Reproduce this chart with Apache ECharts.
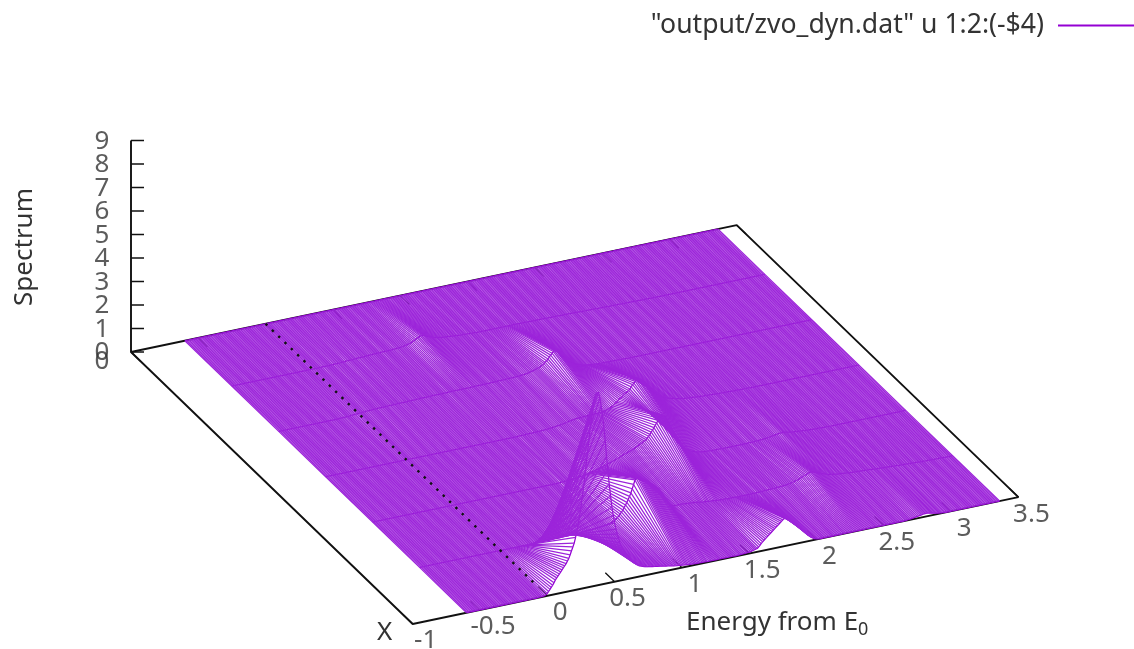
<!DOCTYPE html>
<html><head><meta charset="utf-8">
<style>html,body{margin:0;padding:0;background:#fff}#c{width:1134px;height:649px;filter:blur(0.5px)}</style>
<script src="https://cdn.jsdelivr.net/npm/echarts@6/dist/echarts.min.js"></script>
</head><body><div id="c"></div>
<script>
var seriesName = '"output/zvo_dyn.dat" u 1:2:(-$4)';
var energyTicks = [-1,-0.5,0,0.5,1,1.5,2,2.5,3,3.5];
var energyTickLabels = ['-1','-0.5','0','0.5','1','1.5','2','2.5','3','3.5'];
var zTicks = [0,1,2,3,4,5,6,7,8,9];
var zTickLabels = ['0','1','2','3','4','5','6','7','8','9'];
var xTickLabels = ['0'];
var energyMin = -0.6, energyStep = 0.01;
var row0 = [
0,0,0,0,0,0,0,0,0,0,0,0,0,0,0,0,0,0,0,0,
0,0,0,0,0,0,0,0,0,0,0,0,0,0,0,0,0,0,0,0,
0,0,0,0,0,0,0,0,0,0,0,0,0,0,.01,.01,.01,.02,.03,.05,
.1,.17,.25,.32,.4,.5,.6,.68,.75,.82,.9,.97,1.05,1.12,1.2,1.3,1.4,1.54,1.7,1.85,
2,2.23,2.5,2.78,3.1,3.48,3.9,4.33,4.8,5.3,5.8,6.3,6.8,7.22,7.6,7.92,8.15,8.22,8.2,7.95,
7.6,7.2,6.7,6.1,5.4,4.8,4.2,3.7,3.2,2.83,2.5,2.23,2,1.8,1.6,1.46,1.35,1.25,1.15,1.07,
1,.9,.8,.72,.65,.6,.55,.51,.47,.44,.42,.4,.38,.36,.35,.34,.33,.32,.31,.3,
.29,.28,.27,.26,.25,.24,.23,.22,.21,.2,.19,.18,.17,.16,.15,.14,.13,.12,.12,.11,
.1,.09,.09,.08,.08,.07,.07,.06,.06,.05,.05,.05,.05,.04,.04,.04,.04,.04,.04,.03,
.03,.03,.03,.03,.03,.03,.03,.03,.03,.03,.03,.03,.03,.03,.03,.03,.03,.03,.03,.02,
.02,.02,.03,.03,.03,.03,.04,.04,.05,.05,.06,.07,.08,.09,.11,.12,.14,.19,.25,.31,
.38,.43,.48,.53,.58,.63,.68,.73,.78,.83,.88,.93,.98,1.03,1.08,1.13,1.18,1.19,1.15,1.1,
1.05,1,.95,.9,.84,.78,.72,.66,.6,.54,.48,.42,.36,.3,.24,.19,.14,.1,.06,.04,
.02,.01,0,0,0,0,0,0,0,0,0,0,0,0,0,0,0,0,0,0,
0,0,0,0,0,0,0,0,0,0,0,0,0,0,0,0,0,0,0,0,
0,0,0,0,0,0,0,0,0,0,0,0,0,0,0,0,0,0,0,0,
0,0,0,0,0,0,.01,.01,.02,.02,.03,.04,.05,.06,.07,.08,.09,.1,.11,.12,
.13,.13,.13,.13,.12,.11,.09,.07,.06,.05,.04,.03,.02,.01,.01,.01,0,0,0,0,
0,0,0,0,0,0,0,0,0,0,0,0,0,0,0,0,0,0,0,0,
0,0,0,0,0,0,0,0,0,0,0,0,0,0,0,0,0];
var row1 = [
0,0,0,0,0,0,0,0,0,0,0,0,0,0,0,0,0,0,0,0,
0,0,0,0,0,0,0,0,0,0,0,0,0,0,0,0,0,0,0,0,
0,0,0,0,0,0,0,0,0,0,0,0,0,0,0,0,0,0,0,0,
0,0,0,0,0,0,0,0,0,0,0,0,0,0,0,0,0,0,0,0,
0,0,0,0,0,0,0,0,0,0,0,0,0,0,0,0,0,0,0,0,
.01,.01,.01,.01,.01,.02,.02,.02,.02,.02,.02,.03,.03,.03,.03,.03,.03,.03,.03,.04,
.04,.04,.05,.05,.05,.06,.06,.07,.07,.08,.08,.09,.09,.1,.1,.11,.12,.13,.14,.15,
.16,.17,.19,.21,.23,.26,.3,.35,.42,.48,.55,.63,.72,.82,.92,1.03,1.15,1.29,1.45,1.62,
1.8,1.85,1.88,1.87,1.85,1.82,1.78,1.74,1.7,1.65,1.6,1.55,1.5,1.46,1.42,1.36,1.3,1.25,1.2,1.1,
1,.9,.8,.7,.6,.52,.45,.41,.38,.36,.35,.35,.36,.36,.36,.36,.35,.35,.34,.34,
.33,.33,.32,.32,.31,.31,.3,.29,.28,.27,.26,.25,.25,.24,.24,.23,.23,.22,.22,.22,
.21,.21,.2,.2,.2,.19,.19,.19,.19,.18,.18,.18,.18,.18,.18,.17,.17,.17,.17,.17,
.17,.17,.17,.17,.17,.17,.17,.17,.17,.17,.17,.18,.18,.18,.18,.18,.19,.19,.19,.19,
.2,.2,.2,.2,.2,.2,.21,.21,.22,.22,.23,.23,.24,.25,.26,.27,.28,.29,.31,.32,
.34,.36,.38,.4,.43,.45,.48,.5,.53,.55,.57,.57,.56,.54,.52,.5,.47,.44,.42,.4,
.38,.36,.34,.32,.31,.3,.29,.28,.27,.26,.25,.25,.24,.24,.23,.23,.22,.22,.21,.2,
.19,.19,.19,.18,.18,.18,.17,.17,.17,.16,.16,.16,.15,.15,.15,.14,.14,.14,.13,.13,
.12,.12,.12,.11,.11,.11,.1,.1,.1,.09,.09,.09,.08,.08,.08,.08,.07,.07,.07,.06,
.06,.06,.06,.05,.05,.05,.05,.04,.04,.04,.04,.03,.03,.03,.03,.02,.02,.02,.02,.02,
.02,.01,.01,.01,.01,.01,.01,.01,.01,0,0,0,0,0,0,0,0];
var row2 = [
0,0,0,0,0,0,0,0,0,0,0,0,0,0,0,0,0,0,0,0,
0,0,0,0,0,0,0,0,0,0,0,0,0,0,0,0,0,0,0,0,
0,0,0,0,0,0,0,0,0,0,0,0,0,0,0,0,0,0,0,0,
0,0,0,0,0,0,0,0,0,0,0,0,0,0,0,0,0,0,0,0,
0,0,0,0,0,0,0,0,0,0,0,0,0,0,0,0,0,0,0,0,
0,0,0,0,0,0,0,0,0,0,0,0,0,0,0,0,0,0,0,0,
0,0,0,0,0,0,0,0,0,0,0,0,0,0,0,0,0,0,0,0,
.02,.02,.02,.02,.03,.03,.03,.03,.04,.04,.05,.05,.06,.07,.08,.09,.1,.11,.12,.13,
.14,.15,.17,.18,.2,.21,.23,.25,.27,.28,.3,.31,.33,.34,.36,.38,.4,.42,.44,.46,
.48,.5,.52,.54,.57,.59,.62,.64,.66,.68,.7,.72,.74,.76,.78,.81,.84,.87,.9,.92,
.95,.98,1.02,1.07,1.12,1.19,1.26,1.34,1.42,1.51,1.6,1.69,1.78,1.85,1.92,1.95,1.96,1.9,1.8,1.68,
1.55,1.4,1.25,1.11,.98,.86,.75,.66,.58,.51,.45,.4,.35,.31,.27,.23,.2,.17,.15,.13,
.11,.09,.08,.07,.06,.05,.05,.04,.04,.03,.03,.03,.02,.02,.02,.02,.02,.02,.02,.02,
.01,.01,.01,.01,.01,.01,.01,.01,.01,.01,.01,.01,.01,.01,.01,.01,.01,.01,.01,.01,
.02,.02,.02,.02,.03,.03,.03,.03,.04,.04,.05,.05,.06,.06,.07,.08,.09,.1,.11,.12,
.13,.14,.15,.16,.16,.16,.15,.14,.13,.12,.11,.1,.09,.08,.08,.07,.07,.06,.06,.05,
.05,.04,.04,.03,.03,.03,.03,.03,.02,.02,.02,.02,.02,.02,.01,.01,.01,.01,.01,.01,
0,0,0,0,0,0,0,0,0,0,0,0,0,0,0,0,0,0,0,0,
0,0,0,0,0,0,0,0,0,0,0,0,0,0,0,0,0,0,0,0,
0,0,0,0,0,0,0,0,0,0,0,0,0,0,0,0,0];
var row3 = [
0,0,0,0,0,0,0,0,0,0,0,0,0,0,0,0,0,0,0,0,
0,0,0,0,0,0,0,0,0,0,0,0,0,0,0,0,0,0,0,0,
0,0,0,0,0,0,0,0,0,0,0,0,0,0,0,0,0,0,0,0,
0,0,0,0,0,0,0,0,0,0,0,0,0,0,0,0,0,0,0,0,
0,0,0,0,0,0,0,0,0,0,0,0,0,0,0,0,0,0,0,0,
0,0,0,0,0,0,0,0,0,0,0,0,0,0,0,0,0,0,0,0,
0,0,0,0,0,0,0,0,0,0,0,0,0,0,0,0,0,0,0,0,
0,0,0,0,.01,.01,.01,.01,.01,.02,.02,.02,.02,.02,.02,.03,.03,.03,.03,.03,
.03,.04,.04,.05,.05,.06,.06,.07,.07,.08,.08,.09,.1,.11,.11,.12,.13,.14,.15,.16,
.18,.19,.2,.21,.22,.23,.24,.25,.25,.25,.25,.26,.26,.26,.26,.27,.27,.27,.27,.28,
.28,.28,.28,.29,.29,.3,.3,.31,.33,.35,.37,.39,.42,.46,.5,.54,.58,.63,.68,.72,
.76,.8,.84,.88,.92,.97,1.02,1.1,1.18,1.24,1.3,1.33,1.36,1.35,1.34,1.3,1.25,1.19,1.12,1.05,
.98,.91,.84,.77,.7,.64,.58,.53,.48,.44,.4,.37,.34,.32,.3,.28,.26,.25,.24,.22,
.2,.19,.18,.17,.16,.15,.14,.14,.13,.13,.12,.12,.11,.11,.1,.1,.09,.09,.08,.08,
.07,.07,.07,.06,.06,.06,.06,.05,.05,.05,.05,.04,.04,.04,.04,.03,.03,.03,.03,.03,
.03,.03,.02,.02,.02,.02,.02,.02,.01,.01,.01,.01,.01,.01,.01,.01,0,0,0,0,
0,0,0,0,0,0,0,0,0,0,0,0,0,0,0,0,0,0,0,0,
0,0,0,0,0,0,0,0,0,0,0,0,0,0,0,0,0,0,0,0,
0,0,0,0,0,0,0,0,0,0,0,0,0,0,0,0,0,0,0,0,
0,0,0,0,0,0,0,0,0,0,0,0,0,0,0,0,0];
var row4 = [
0,0,0,0,0,0,0,0,0,0,0,0,0,0,0,0,0,0,0,0,
0,0,0,0,0,0,0,0,0,0,0,0,0,0,0,0,0,0,0,0,
0,0,0,0,0,0,.01,.01,.01,.01,.02,.02,.02,.02,.03,.03,.04,.04,.05,.05,
.06,.06,.06,.06,.07,.07,.08,.08,.08,.08,.09,.09,.09,.09,.1,.1,.1,.1,.1,.1,
.1,.1,.11,.11,.11,.11,.11,.11,.12,.12,.12,.12,.12,.12,.12,.12,.13,.13,.13,.13,
.13,.13,.13,.13,.14,.14,.14,.14,.14,.14,.14,.14,.14,.14,.15,.15,.15,.15,.15,.15,
.15,.15,.15,.15,.15,.15,.16,.16,.16,.16,.16,.16,.16,.16,.16,.16,.16,.16,.16,.16,
.16,.16,.16,.16,.17,.17,.17,.17,.17,.17,.17,.17,.17,.17,.17,.17,.17,.17,.18,.18,
.18,.18,.18,.18,.19,.19,.19,.19,.19,.19,.2,.2,.2,.2,.2,.2,.21,.21,.21,.21,
.22,.22,.23,.24,.25,.26,.27,.28,.3,.31,.33,.35,.37,.39,.42,.45,.48,.52,.56,.62,
.68,.75,.82,.89,.95,.96,.97,.93,.88,.82,.76,.7,.64,.58,.52,.47,.42,.37,.33,.29,
.26,.23,.2,.18,.16,.14,.12,.1,.09,.08,.07,.06,.06,.05,.05,.05,.04,.04,.04,.03,
.03,.03,.03,.03,.03,.02,.02,.02,.02,.02,.02,.02,.02,.01,.01,.01,.01,.01,.01,.01,
0,0,0,0,0,0,0,0,0,0,0,0,0,0,0,0,0,0,0,0,
0,0,0,0,0,0,0,0,0,0,0,0,0,0,0,0,0,0,0,0,
0,0,0,0,0,0,0,0,0,0,0,0,0,0,0,0,0,0,0,0,
0,0,0,0,0,0,0,0,0,0,0,0,0,0,0,0,0,0,0,0,
0,0,0,0,0,0,0,0,0,0,0,0,0,0,0,0,0,0,0,0,
0,0,0,0,0,0,0,0,0,0,0,0,0,0,0,0,0,0,0,0,
0,0,0,0,0,0,0,0,0,0,0,0,0,0,0,0,0];
var row5 = [
0,0,0,0,0,0,0,0,0,0,0,0,0,0,0,0,0,0,0,0,
0,0,0,0,0,0,0,0,0,0,0,0,0,0,0,0,0,0,0,0,
0,0,0,0,0,0,0,0,0,0,0,0,0,0,0,0,0,0,0,0,
0,0,0,0,0,0,0,0,.01,.01,.01,.01,.01,.01,.01,.01,.02,.02,.02,.02,
.02,.03,.03,.03,.03,.04,.05,.05,.05,.05,.05,.06,.06,.06,.07,.07,.07,.07,.07,.08,
.08,.08,.09,.09,.09,.09,.1,.1,.1,.1,.1,.1,.11,.11,.11,.11,.11,.11,.11,.12,
.12,.12,.13,.13,.14,.14,.15,.16,.17,.18,.19,.2,.22,.24,.26,.29,.32,.35,.39,.42,
.45,.46,.46,.44,.41,.38,.36,.33,.31,.29,.27,.25,.24,.23,.22,.21,.2,.19,.19,.18,
.18,.18,.17,.17,.16,.16,.15,.15,.14,.14,.13,.13,.13,.13,.12,.12,.12,.12,.11,.11,
.11,.11,.1,.1,.1,.1,.1,.1,.1,.1,.1,.1,.1,.1,.1,.1,.1,.1,.1,.1,
.1,.1,.1,.1,.1,.1,.1,.1,.1,.1,.1,.1,.1,.1,.1,.1,.1,.1,.1,.1,
.09,.09,.09,.09,.09,.09,.09,.09,.09,.09,.09,.09,.09,.09,.08,.08,.08,.08,.08,.08,
.08,.08,.08,.08,.07,.07,.07,.07,.07,.07,.07,.07,.07,.07,.07,.07,.06,.06,.06,.06,
.05,.05,.05,.05,.05,.05,.05,.05,.05,.05,.05,.05,.04,.04,.04,.04,.04,.04,.04,.04,
.03,.03,.03,.03,.03,.03,.03,.03,.03,.03,.02,.02,.02,.02,.02,.02,.02,.02,.02,.02,
.01,.01,.01,.01,.01,.01,.01,.01,.01,.01,.01,.01,0,0,0,0,0,0,0,0,
0,0,0,0,0,0,0,0,0,0,0,0,0,0,0,0,0,0,0,0,
0,0,0,0,0,0,0,0,0,0,0,0,0,0,0,0,0,0,0,0,
0,0,0,0,0,0,0,0,0,0,0,0,0,0,0,0,0,0,0,0,
0,0,0,0,0,0,0,0,0,0,0,0,0,0,0,0,0];
var row6 = [
0,0,0,0,0,0,0,0,0,0,0,0,0,0,0,0,0,0,0,0,
0,0,0,0,0,0,0,0,0,0,0,0,0,0,0,0,0,0,0,0,
0,0,0,0,0,0,0,0,0,0,0,0,0,0,0,0,0,0,0,0,
0,0,0,0,0,0,0,0,0,0,0,0,0,0,0,0,0,0,0,0,
0,0,0,0,0,0,0,0,0,0,0,0,0,0,0,0,0,0,0,0,
0,0,0,0,0,0,0,0,0,0,0,0,0,0,0,0,0,0,0,0,
0,0,0,0,0,0,0,0,0,0,0,0,0,0,0,0,0,0,0,0,
0,0,0,0,0,0,0,0,0,0,0,0,0,0,0,0,0,0,0,0,
0,0,0,0,0,0,0,0,0,0,0,0,0,0,0,0,0,0,0,0,
0,0,0,0,0,0,0,0,0,0,0,0,0,0,0,0,0,0,0,0,
0,0,0,0,0,0,0,0,0,0,0,0,0,0,0,0,0,0,0,0,
0,0,0,0,0,0,0,0,0,0,0,0,0,0,0,0,0,0,0,0,
0,0,0,0,0,0,0,0,0,0,0,0,0,0,0,0,0,0,0,0,
0,0,0,0,0,0,0,0,0,0,0,0,0,0,0,0,0,0,0,0,
0,0,0,0,0,0,0,0,0,0,0,0,0,0,0,0,0,0,0,0,
0,0,0,0,0,0,0,0,0,0,0,0,0,0,0,0,0,0,0,0,
0,0,0,0,0,0,0,0,0,0,0,0,0,0,0,0,0,0,0,0,
0,0,0,0,0,0,0,0,0,0,0,0,0,0,0,0,0,0,0,0,
0,0,0,0,0,0,0,0,0,0,0,0,0,0,0,0,0,0,0,0,
0,0,0,0,0,0,0,0,0,0,0,0,0,0,0,0,0];
var rows = [row0,row1,row2,row3,row4,row5,row6];

// 3D view: gnuplot-style oblique projection onto the flat page plane
var view = {ox:412.7, oy:624, ex:134.6, ey:-28.2, bx:-281.7, by:-272, zy:-23.5};
function project(e, u, z){
  return [view.ox + (e+1)*view.ex + u*view.bx, view.oy + (e+1)*view.ey + u*view.by + z*view.zy];
}
var gap = [NaN, NaN];
var FONT = 'Noto Sans', INK = '#333', VIOLET = '#9400d3', VIOLET_HATCH = '#9c24da';

function lineSeries(name, data, color, width, z, type){
  return {name:name, type:'line', data:data, showSymbol:false, symbol:'none', silent:true, z:z,
    connectNulls:false, animation:false, clip:false,
    lineStyle:{color:color, width:width, type:type||'solid', cap:'butt'}, itemStyle:{color:color}};
}
function labelSeries(items, off){
  return {type:'scatter', symbolSize:0, silent:true, animation:false, z:10,
    data:items.map(function(t){ return {value:t.p, name:t.s}; }),
    label:{show:true, position:'inside', offset:off, formatter:'{b}', fontFamily:FONT, fontSize:26, color:INK}};
}

var frame = [project(-1,1,9),project(-1,1,0),project(-1,0,0),project(3.5,0,0),project(3.5,1,0),project(-1,1,0)];
var tickPts = [];
energyTicks.forEach(function(e){
  tickPts.push(project(e,0,0),project(e,0.033,0),gap,project(e,1,0),project(e,0.967,0),gap);
});
zTicks.forEach(function(z){
  var p = project(-1,1,z);
  tickPts.push(p,[p[0]+13,p[1]],gap);
});
var dotted = [project(0,1,0), project(0,0.035,0)];

var surface = [];
rows.forEach(function(r, k){
  var pts = r.map(function(z, i){ return project(energyMin+i*energyStep, k/6, z); });
  surface.push(lineSeries(k === 0 ? seriesName : 'surface', pts, VIOLET, 1.25, 3));
});
row0.forEach(function(_, i){
  var pts = rows.map(function(r, k){ return project(energyMin+i*energyStep, k/6, r[i]); });
  surface.push(lineSeries('surface', pts, VIOLET_HATCH, 1.25, 3));
});

var chart = echarts.init(document.getElementById('c'), null, {renderer:'canvas'});
chart.setOption({
  animation:false, backgroundColor:'#fff',
  grid:{left:0, top:0, width:1134, height:649, containLabel:false},
  xAxis:{type:'value', min:0, max:1134, show:false},
  yAxis:{type:'value', min:0, max:649, inverse:true, show:false},
  legend:{right:0, top:12, padding:0, align:'right', itemWidth:76, itemHeight:2, icon:'rect',
    data:[seriesName], selectedMode:false,
    textStyle:{fontFamily:FONT, fontSize:26.6, color:INK, padding:[0,9,0,0]}},
  tooltip:{show:false},
  series:[
    lineSeries('frame', frame, '#111', 1.9, 1),
    lineSeries('ticks', tickPts, '#111', 1.3, 1)
  ].concat(surface).concat([
    lineSeries('zero', dotted, '#111', 2.4, 5, [2.4,6.4]),
    labelSeries(energyTicks.map(function(e,i){ return {p:project(e,0,0), s:energyTickLabels[i]}; }), [13,17]),
    labelSeries(zTicks.map(function(z,i){ return {p:project(-1,1,z), s:zTickLabels[i]}; }), [-29,1]),
    labelSeries(xTickLabels.map(function(s){ return {p:project(-1,1,0), s:s}; }), [-29,10])
  ]),
  graphic:[
    {type:'text', left:12, top:188, rotation:Math.PI/2, style:{text:'Spectrum', font:'26px "Noto Sans"', fill:INK}, silent:true},
    {type:'text', left:377, top:620, style:{text:'X', font:'26px "Noto Sans"', fill:INK}, silent:true},
    {type:'text', left:686, top:610, style:{text:'Energy from E', font:'26px "Noto Sans"', fill:INK}, silent:true},
    {type:'text', left:858, top:621, style:{text:'0', font:'18px "Noto Sans"', fill:INK}, silent:true}
  ]
});
</script></body></html>
